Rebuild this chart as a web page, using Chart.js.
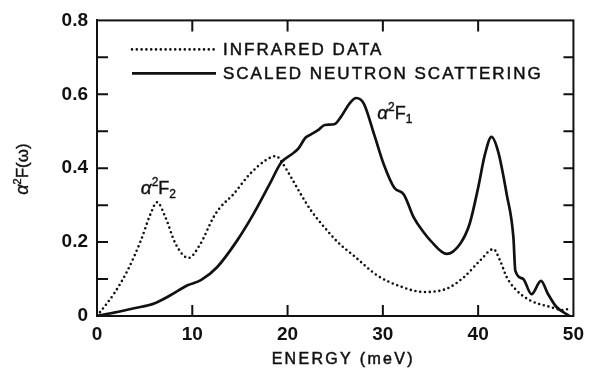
<!DOCTYPE html>
<html>
<head>
<meta charset="utf-8">
<script src="https://cdn.jsdelivr.net/npm/chart.js@4"></script>
<style>
  body { margin: 0; background: #fff; }
  #wrap { width: 591px; height: 369px; }
</style>
</head>
<body>
<div id="wrap"><canvas id="chart" width="591" height="369"></canvas></div>
<script>
// ======== DATA ========
const seriesNames = ["INFRARED DATA", "SCALED NEUTRON SCATTERING"];

// infrared (dotted)
const irEnergy = [0, 1.8, 3.2, 4.6, 5.6, 6.3, 7.2, 8.25, 9.6, 10.85, 12.2, 12.9, 14.3, 16.0, 17.8, 18.8,
  19.4, 20.4, 21.4, 22.5, 23.9, 25.3, 27.0, 29.4, 31.85, 34.3, 36.7, 38.5, 40.2, 41.6, 42.3, 43.0,
  44.0, 45.4, 47.5, 48.9, 49.7];
const irValue = [0, 0.061, 0.123, 0.204, 0.275, 0.308, 0.266, 0.195, 0.157, 0.195, 0.266, 0.293, 0.329, 0.383, 0.423, 0.433,
  0.416, 0.374, 0.329, 0.284, 0.239, 0.199, 0.162, 0.110, 0.080, 0.065, 0.074, 0.105, 0.150, 0.181, 0.150, 0.105,
  0.070, 0.043, 0.025, 0.016, 0.021];

// scaled neutron scattering (solid)
const nsEnergy = [0, 1.8, 3.9, 6.0, 7.7, 9.5, 10.9, 12.6, 14.7, 16.4, 18.1, 19.35, 20.4, 21.1, 21.9, 22.5,
  23.2, 23.9, 24.9, 25.6, 26.5, 27.2, 28.0, 29.1, 30.1, 31.2, 32.2, 33.25, 34.3, 35.0, 36.7, 38.1,
  39.1, 40.0, 40.7, 41.4, 42.1, 43.0, 43.7, 43.9, 44.7, 45.6, 46.6, 47.3, 48.2, 49.6];
const nsValue = [0, 0.009, 0.021, 0.034, 0.056, 0.083, 0.097, 0.132, 0.204, 0.275, 0.356, 0.416, 0.437, 0.452, 0.483, 0.492,
  0.503, 0.517, 0.519, 0.539, 0.575, 0.590, 0.575, 0.49, 0.41, 0.347, 0.329, 0.266, 0.226, 0.204, 0.168, 0.195,
  0.249, 0.347, 0.436, 0.485, 0.445, 0.329, 0.213, 0.123, 0.101, 0.059, 0.095, 0.061, 0.025, 0];

const xTickValues = [0, 10, 20, 30, 40, 50];
const xTickLabels = ["0", "10", "20", "30", "40", "50"];
const yTickValues = [0, 0.2, 0.4, 0.6, 0.8];
const yTickLabels = ["0", "0.2", "0.4", "0.6", "0.8"];
const xInnerTicks = [10, 20, 30, 40];
const yInnerTicks = [0.1, 0.2, 0.3, 0.4, 0.5, 0.6, 0.7];

// curve labels: [energy, value] anchor of the text
const peakLabels = [
  { at: [4.6, 0.33], sub: "2" },
  { at: [29.4, 0.534], sub: "1" }
];

const FONT = '"Liberation Sans", Arial, sans-serif';
const INK = "#111";

// ======== HELPERS ========
// parts: [text, font, dy]
function richWidth(ctx, parts) {
  let w = 0;
  parts.forEach(([t, f]) => { ctx.font = f; w += ctx.measureText(t).width; });
  return w;
}
function drawRich(ctx, x, y, parts) {
  let cx = x;
  parts.forEach(([t, f, dy]) => {
    ctx.font = f;
    ctx.fillText(t, cx, y + dy);
    ctx.strokeText(t, cx, y + dy);
    cx += ctx.measureText(t).width;
  });
}
// a slightly heavier regular weight, like the printed lettering
function inkText(ctx, t, x, y) {
  ctx.fillText(t, x, y);
  ctx.strokeText(t, x, y);
}
function alphaF(sub) {
  return [
    ["α", "italic 19px " + FONT, 0],
    ["2", "12px " + FONT, -8],
    ["F", "18px " + FONT, 0],
    [sub, "12px " + FONT, 4]
  ];
}

// ======== DECORATIONS ========
const decor = {
  id: "decor",
  afterDraw(chart) {
    const ctx = chart.ctx;
    const a = chart.chartArea;
    const xs = chart.scales.x;
    const ys = chart.scales.y;

    ctx.save();
    ctx.strokeStyle = INK;
    ctx.fillStyle = INK;

    // frame
    ctx.lineWidth = 2;
    ctx.strokeRect(a.left, a.top, a.right - a.left, a.bottom - a.top);

    // inward ticks
    ctx.beginPath();
    xInnerTicks.forEach(v => {
      const px = xs.getPixelForValue(v);
      ctx.moveTo(px, a.bottom); ctx.lineTo(px, a.bottom - 11);
      ctx.moveTo(px, a.top); ctx.lineTo(px, a.top + 11);
    });
    yInnerTicks.forEach(v => {
      const py = ys.getPixelForValue(v);
      ctx.moveTo(a.left, py); ctx.lineTo(a.left + 11, py);
      ctx.moveTo(a.right, py); ctx.lineTo(a.right - 10, py);
    });
    ctx.stroke();

    // legend
    const ds = chart.data.datasets;
    const lx0 = a.left + 35, lx1 = a.left + 119, tx = a.left + 126;
    [a.top + 29, a.top + 53].forEach((ly, i) => {
      ctx.beginPath();
      ctx.lineWidth = ds[i].borderWidth;
      ctx.lineCap = ds[i].borderCapStyle || "butt";
      ctx.setLineDash(ds[i].borderDash || []);
      ctx.moveTo(lx0, ly); ctx.lineTo(lx1, ly);
      ctx.stroke();
      ctx.setLineDash([]);
      ctx.lineCap = "butt";
      ctx.lineWidth = 0.5;
      ctx.font = "17px " + FONT;
      ctx.letterSpacing = "2px";
      ctx.textBaseline = "middle";
      inkText(ctx, ds[i].label, tx, ly + 1);
      ctx.letterSpacing = "0px";
    });

    // curve labels
    ctx.textBaseline = "alphabetic";
    ctx.lineWidth = 0.4;
    peakLabels.forEach(l => {
      drawRich(ctx, xs.getPixelForValue(l.at[0]), ys.getPixelForValue(l.at[1]), alphaF(l.sub));
    });

    // x title
    ctx.lineWidth = 0.5;
    ctx.font = "16px " + FONT;
    ctx.letterSpacing = "2.3px";
    ctx.textAlign = "center";
    inkText(ctx, "ENERGY (meV)", (a.left + a.right) / 2 + 8, 364);
    ctx.letterSpacing = "0px";
    ctx.textAlign = "left";

    // y title (rotated)
    const yParts = [
      ["α", "italic 18px " + FONT, 0],
      ["2", "11px " + FONT, -7],
      ["F(ω)", "17px " + FONT, 0]
    ];
    ctx.lineWidth = 0.4;
    ctx.translate(28, 169);
    ctx.rotate(-Math.PI / 2);
    drawRich(ctx, -richWidth(ctx, yParts) / 2, 0, yParts);

    ctx.restore();
  }
};

// ======== CHART ========
const tickFont = { family: FONT, size: 19, weight: "bold" };

new Chart(document.getElementById("chart"), {
  type: "line",
  data: {
    datasets: [
      {
        label: seriesNames[0],
        data: irEnergy.map((x, i) => ({ x, y: irValue[i] })),
        borderColor: INK,
        borderWidth: 2.6,
        borderDash: [0, 4.8],
        borderCapStyle: "round",
        pointRadius: 0,
        cubicInterpolationMode: "monotone",
        fill: false
      },
      {
        label: seriesNames[1],
        data: nsEnergy.map((x, i) => ({ x, y: nsValue[i] })),
        borderColor: INK,
        borderWidth: 2.7,
        borderJoinStyle: "round",
        pointRadius: 0,
        cubicInterpolationMode: "monotone",
        fill: false
      }
    ]
  },
  options: {
    responsive: false,
    animation: false,
    layout: { padding: { left: 0, top: 18, right: 13, bottom: 0 } },
    plugins: { legend: { display: false }, tooltip: { enabled: false } },
    scales: {
      x: {
        type: "linear",
        min: 0,
        max: 50,
        afterBuildTicks: s => { s.ticks = xTickValues.map(v => ({ value: v })); },
        afterFit: s => { s.height = 53; },
        ticks: {
          font: tickFont,
          color: INK,
          padding: 7,
          maxRotation: 0,
          autoSkip: false,
          callback: (v) => xTickLabels[xTickValues.indexOf(v)]
        },
        grid: { display: false, drawTicks: false },
        border: { display: true, color: INK, width: 2 }
      },
      y: {
        min: 0,
        max: 0.8,
        afterBuildTicks: s => { s.ticks = yTickValues.map(v => ({ value: v })); },
        afterFit: s => { s.width = 97; },
        ticks: {
          font: tickFont,
          color: INK,
          padding: 9,
          autoSkip: false,
          callback: (v) => yTickLabels[yTickValues.indexOf(v)]
        },
        grid: { display: false, drawTicks: false },
        border: { display: true, color: INK, width: 2 }
      }
    }
  },
  plugins: [decor]
});
</script>
</body>
</html>
